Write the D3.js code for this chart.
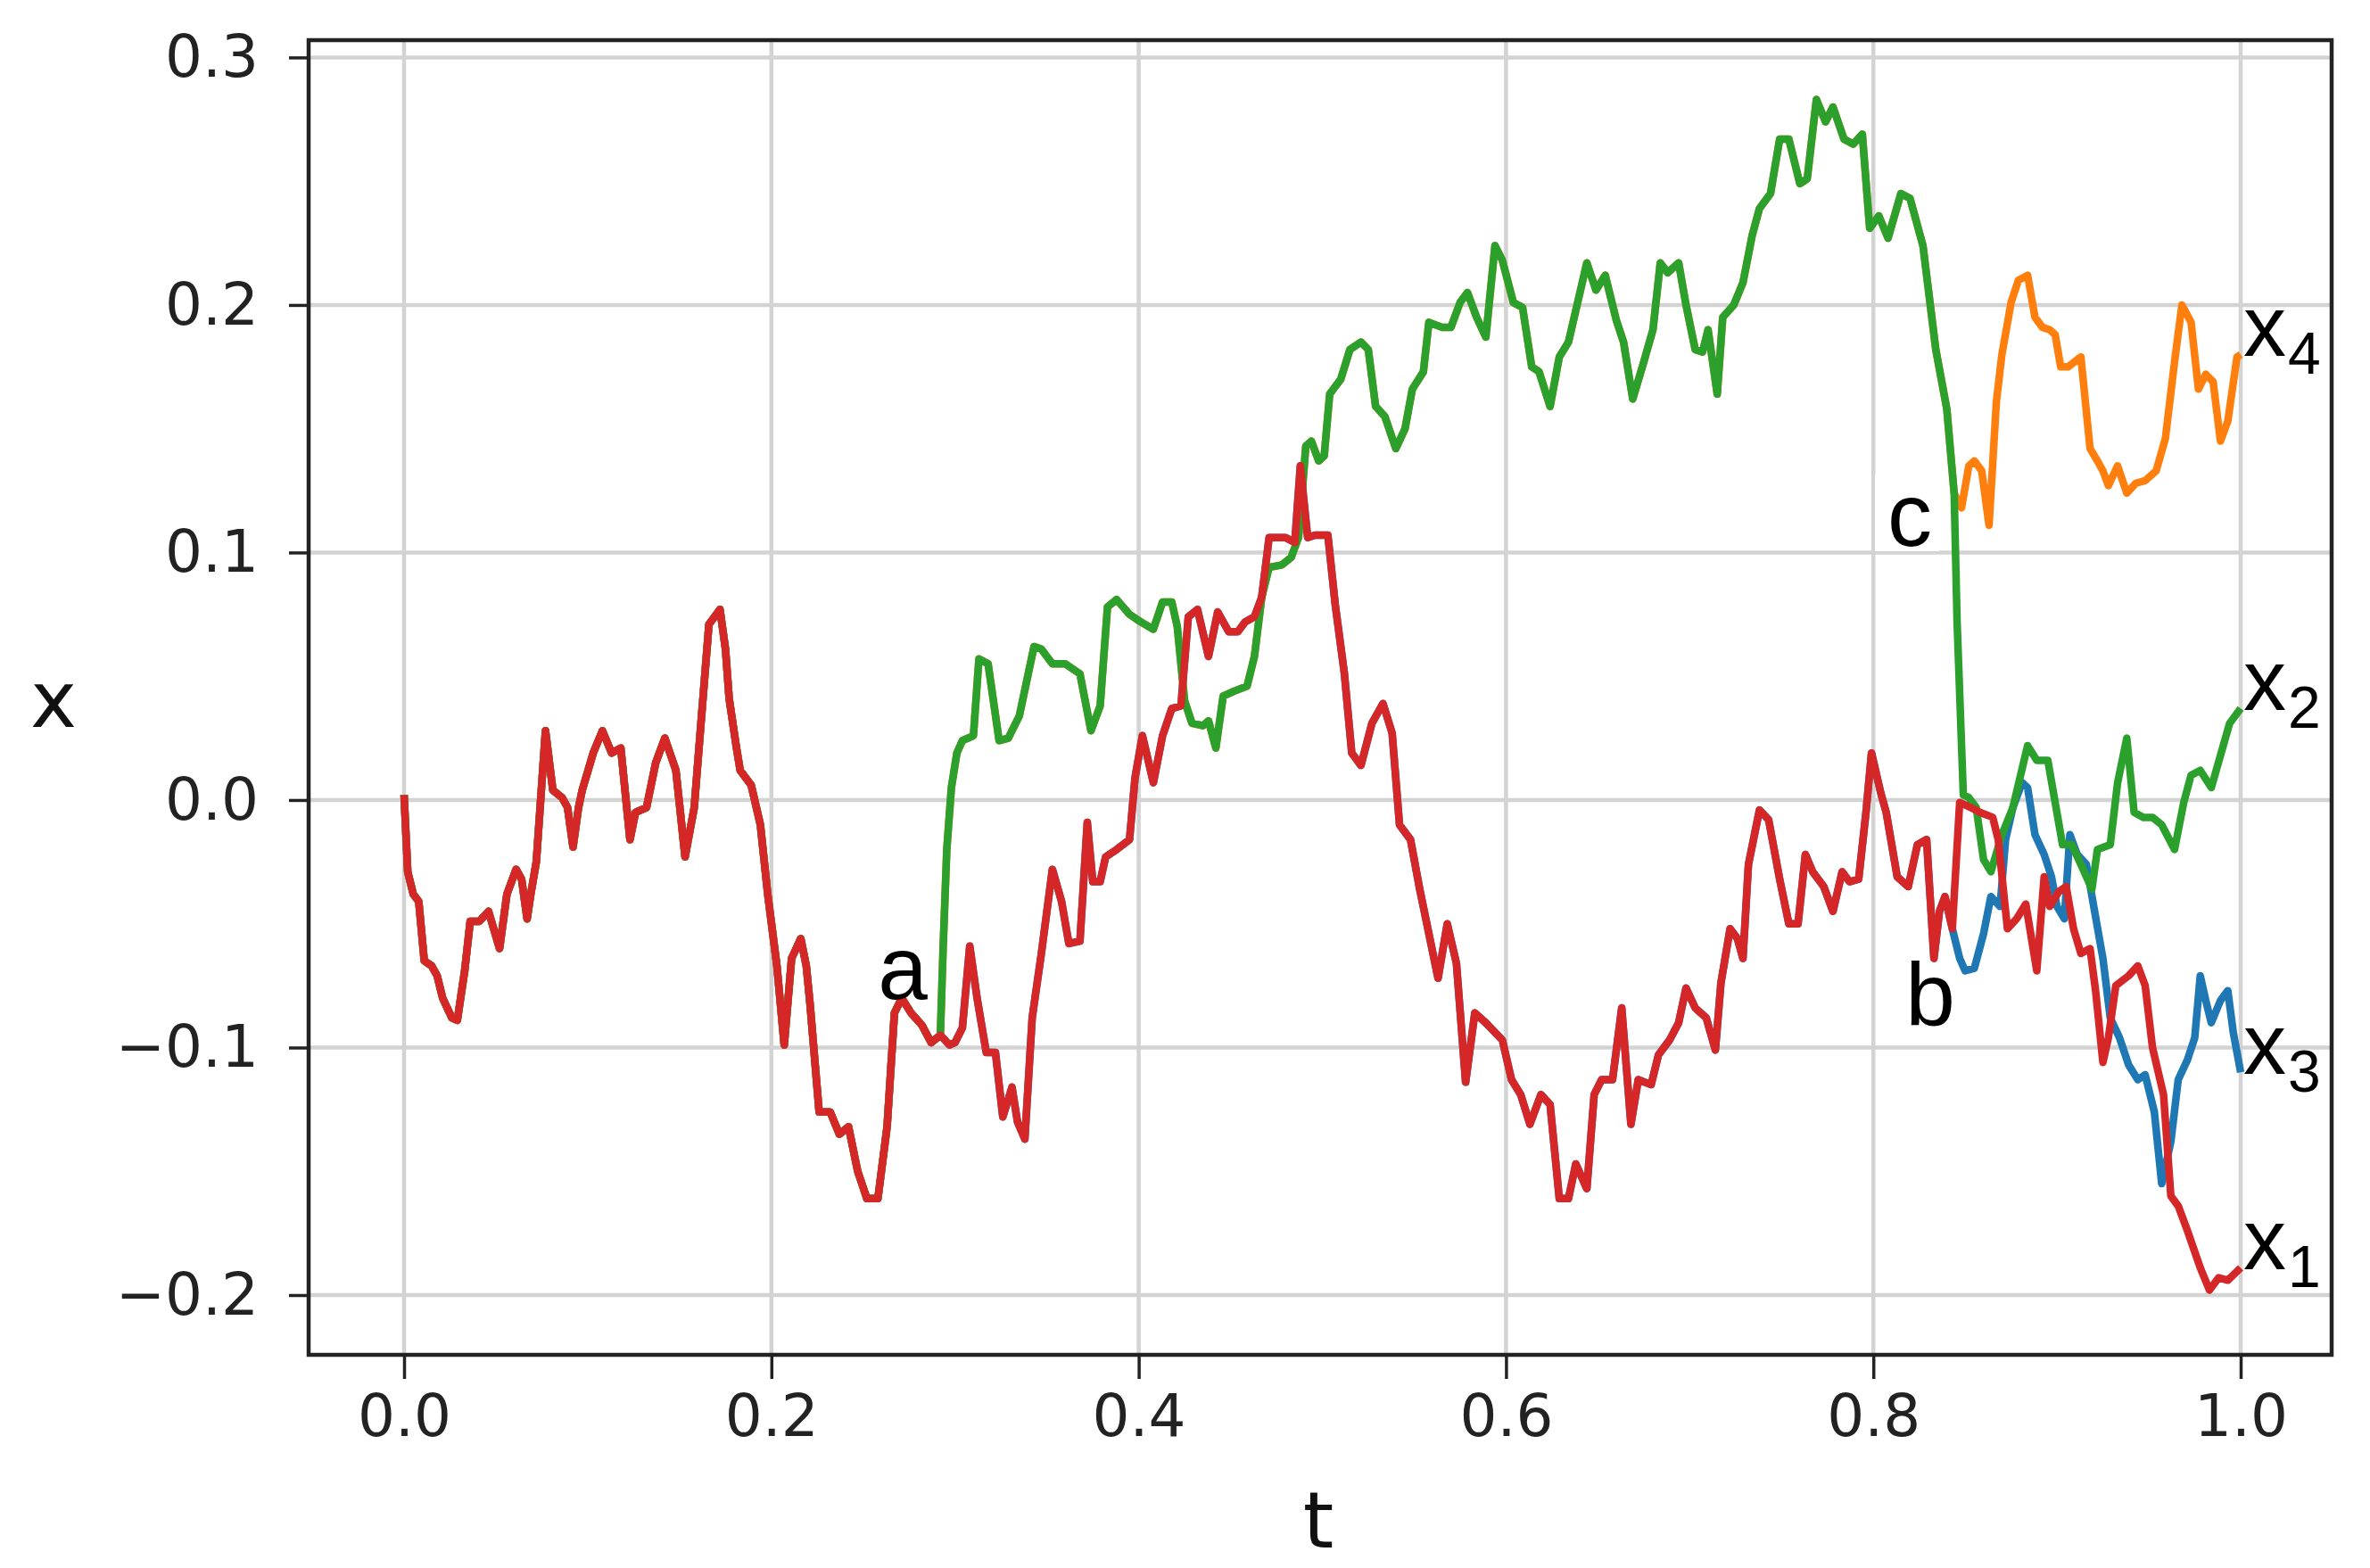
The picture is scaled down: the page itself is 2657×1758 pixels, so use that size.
<!DOCTYPE html>
<html><head><meta charset="utf-8">
<script src="https://cdn.jsdelivr.net/npm/d3@7"></script>
<style>html,body{margin:0;padding:0;background:#fff;} svg{display:block;}</style>
</head><body>
<svg id="chart" width="2657" height="1758"></svg>
<script>
// ---------------- data ----------------
const xTicks = [0.0, 0.2, 0.4, 0.6, 0.8, 1.0];
const yTicks = [-0.2, -0.1, 0.0, 0.1, 0.2, 0.3];

// x1 (red): whole trajectory, [t, x]
const x1Path = [
[0.000,0.002],[0.002,-0.029],[0.005,-0.038],[0.008,-0.041],[0.011,-0.065],[0.015,-0.067],[0.018,-0.071],
[0.021,-0.080],[0.026,-0.088],[0.029,-0.089],[0.033,-0.069],[0.036,-0.049],[0.041,-0.049],[0.046,-0.045],
[0.052,-0.060],[0.056,-0.038],[0.061,-0.028],[0.064,-0.032],[0.067,-0.048],[0.069,-0.038],[0.072,-0.025],
[0.077,0.028],[0.081,0.004],[0.086,0.001],[0.089,-0.003],[0.092,-0.019],[0.095,-0.003],[0.097,0.004],
[0.103,0.019],[0.108,0.028],[0.113,0.019],[0.118,0.021],[0.123,-0.016],[0.126,-0.005],[0.132,-0.003],
[0.137,0.015],[0.142,0.025],[0.148,0.012],[0.153,-0.023],[0.158,-0.003],[0.161,0.025],[0.166,0.071],
[0.172,0.077],[0.175,0.061],[0.177,0.041],[0.181,0.021],[0.183,0.012],[0.189,0.006],[0.194,-0.010],
[0.198,-0.038],[0.203,-0.067],[0.207,-0.099],[0.211,-0.064],[0.216,-0.056],[0.219,-0.067],[0.221,-0.082],
[0.226,-0.126],[0.232,-0.126],[0.237,-0.135],[0.242,-0.132],[0.247,-0.150],[0.252,-0.161],[0.258,-0.161],
[0.263,-0.132],[0.267,-0.086],[0.271,-0.080],[0.276,-0.086],[0.282,-0.091],[0.287,-0.098],[0.292,-0.095],
[0.297,-0.099],[0.300,-0.098],[0.304,-0.092],[0.308,-0.059],[0.312,-0.080],[0.317,-0.102],[0.322,-0.102],
[0.326,-0.128],[0.331,-0.116],[0.334,-0.130],[0.338,-0.137],[0.342,-0.088],[0.347,-0.062],[0.353,-0.028],
[0.358,-0.041],[0.362,-0.058],[0.368,-0.057],[0.372,-0.009],[0.375,-0.033],[0.379,-0.033],[0.382,-0.023],
[0.388,-0.020],[0.395,-0.016],[0.398,0.009],[0.402,0.026],[0.408,0.007],[0.413,0.026],[0.418,0.037],
[0.423,0.038],[0.427,0.074],[0.432,0.077],[0.438,0.058],[0.443,0.076],[0.449,0.068],[0.454,0.068],
[0.458,0.072],[0.463,0.074],[0.467,0.082],[0.471,0.106],[0.475,0.106],[0.480,0.106],[0.485,0.104],
[0.488,0.135],[0.492,0.106],[0.496,0.107],[0.503,0.107],[0.507,0.079],[0.512,0.051],[0.516,0.019],
[0.521,0.014],[0.527,0.031],[0.533,0.039],[0.538,0.027],[0.542,-0.010],[0.548,-0.016],[0.553,-0.036],
[0.558,-0.054],[0.563,-0.072],[0.568,-0.050],[0.573,-0.066],[0.578,-0.114],[0.583,-0.086],[0.589,-0.090],
[0.598,-0.097],[0.603,-0.113],[0.608,-0.119],[0.613,-0.131],[0.619,-0.119],[0.624,-0.123],[0.629,-0.161],
[0.634,-0.161],[0.638,-0.147],[0.644,-0.157],[0.648,-0.119],[0.652,-0.113],[0.658,-0.113],[0.663,-0.084],
[0.668,-0.131],[0.672,-0.113],[0.679,-0.115],[0.683,-0.103],[0.689,-0.097],[0.694,-0.090],[0.698,-0.076],
[0.703,-0.084],[0.709,-0.088],[0.714,-0.101],[0.717,-0.074],[0.722,-0.052],[0.726,-0.056],[0.729,-0.064],
[0.732,-0.026],[0.738,-0.004],[0.743,-0.008],[0.749,-0.032],[0.754,-0.050],[0.759,-0.050],[0.763,-0.022],
[0.767,-0.029],[0.773,-0.035],[0.778,-0.045],[0.783,-0.029],[0.787,-0.033],[0.792,-0.032],[0.796,-0.005],
[0.799,0.019],[0.804,0.003],[0.807,-0.005],[0.813,-0.031],[0.819,-0.035],[0.824,-0.018],[0.829,-0.016],
[0.833,-0.064],[0.836,-0.045],[0.839,-0.039],[0.843,-0.052],[0.847,-0.001],[0.853,-0.003],[0.858,-0.005],
[0.865,-0.007],[0.868,-0.016],[0.873,-0.052],[0.878,-0.048],[0.883,-0.042],[0.889,-0.069],[0.893,-0.031],
[0.896,-0.043],[0.901,-0.037],[0.905,-0.035],[0.909,-0.052],[0.913,-0.062],[0.918,-0.060],[0.921,-0.077],
[0.925,-0.106],[0.928,-0.096],[0.932,-0.075],[0.939,-0.071],[0.944,-0.067],[0.948,-0.075],[0.952,-0.100],
[0.958,-0.119],[0.962,-0.160],[0.966,-0.164],[0.971,-0.174],[0.978,-0.189],[0.983,-0.198],[0.988,-0.193],
[0.993,-0.194],[1.000,-0.189]
];

// x2 (green): branches off x1 at "a"
const x2Branch = [
[0.292,-0.095],[0.2935,-0.060],[0.2955,-0.020],[0.298,0.005],[0.301,0.019],[0.304,0.024],[0.310,0.026],
[0.313,0.057],[0.318,0.055],[0.324,0.024],[0.329,0.025],[0.335,0.034],[0.343,0.062],[0.347,0.061],
[0.353,0.055],[0.360,0.055],[0.368,0.051],[0.374,0.028],[0.379,0.038],[0.383,0.078],[0.388,0.081],
[0.395,0.075],[0.401,0.072],[0.408,0.069],[0.413,0.080],[0.418,0.080],[0.421,0.070],[0.425,0.040],
[0.429,0.031],[0.435,0.030],[0.438,0.032],[0.442,0.021],[0.446,0.042],[0.452,0.044],[0.459,0.046],
[0.463,0.058],[0.467,0.082],[0.471,0.094],[0.478,0.095],[0.483,0.098],[0.487,0.106],[0.491,0.143],
[0.494,0.145],[0.498,0.137],[0.501,0.139],[0.504,0.164],[0.510,0.170],[0.515,0.182],[0.521,0.185],
[0.525,0.182],[0.529,0.159],[0.534,0.155],[0.540,0.142],[0.545,0.150],[0.549,0.166],[0.555,0.173],
[0.558,0.193],[0.565,0.191],[0.570,0.191],[0.575,0.201],[0.579,0.205],[0.584,0.195],[0.589,0.187],
[0.594,0.224],[0.598,0.218],[0.604,0.201],[0.609,0.199],[0.614,0.175],[0.618,0.173],[0.624,0.159],
[0.629,0.179],[0.634,0.185],[0.639,0.201],[0.644,0.217],[0.649,0.206],[0.654,0.212],[0.660,0.194],
[0.664,0.185],[0.669,0.162],[0.675,0.177],[0.680,0.190],[0.684,0.217],[0.688,0.213],[0.694,0.217],
[0.698,0.200],[0.703,0.182],[0.707,0.181],[0.710,0.190],[0.715,0.164],[0.718,0.195],[0.724,0.200],
[0.729,0.209],[0.734,0.228],[0.738,0.239],[0.744,0.245],[0.749,0.267],[0.754,0.267],[0.760,0.249],
[0.764,0.251],[0.769,0.283],[0.774,0.274],[0.778,0.280],[0.784,0.267],[0.789,0.265],[0.794,0.269],
[0.798,0.231],[0.803,0.236],[0.808,0.227],[0.815,0.245],[0.820,0.243],[0.827,0.224],[0.834,0.182],
[0.840,0.158],[0.844,0.124],[0.8456,0.072],[0.849,0.002],[0.852,0.001],[0.856,-0.003],[0.860,-0.024],
[0.864,-0.029],[0.870,-0.014],[0.876,-0.003],[0.884,0.022],[0.889,0.016],[0.895,0.016],[0.899,-0.001],
[0.903,-0.018],[0.908,-0.018],[0.913,-0.026],[0.919,-0.036],[0.922,-0.020],[0.929,-0.018],[0.933,0.007],
[0.938,0.025],[0.942,-0.005],[0.947,-0.007],[0.952,-0.007],[0.957,-0.010],[0.964,-0.020],[0.969,-0.001],
[0.973,0.010],[0.978,0.012],[0.984,0.005],[0.989,0.018],[0.994,0.031],[1.000,0.037]
];

// x3 (blue): branches off x1 at "b"
const x3Branch = [
[0.843,-0.052],[0.847,-0.064],[0.850,-0.069],[0.855,-0.068],[0.860,-0.054],[0.864,-0.039],[0.869,-0.043],
[0.872,-0.016],[0.876,-0.003],[0.881,0.007],[0.884,0.005],[0.888,-0.014],[0.893,-0.022],[0.897,-0.031],
[0.900,-0.043],[0.904,-0.048],[0.907,-0.014],[0.911,-0.022],[0.916,-0.026],[0.920,-0.043],[0.925,-0.064],
[0.929,-0.088],[0.934,-0.096],[0.939,-0.107],[0.944,-0.113],[0.948,-0.111],[0.953,-0.126],[0.957,-0.155],
[0.962,-0.138],[0.966,-0.113],[0.971,-0.105],[0.975,-0.096],[0.978,-0.071],[0.981,-0.081],[0.984,-0.090],
[0.989,-0.081],[0.993,-0.077],[0.996,-0.094],[1.000,-0.110]
];

// x4 (orange): branches off x2 at "c"
const x4Branch = [
[0.844,0.124],[0.848,0.118],[0.852,0.135],[0.855,0.137],[0.859,0.133],[0.863,0.111],[0.867,0.161],
[0.870,0.180],[0.875,0.201],[0.879,0.210],[0.884,0.212],[0.888,0.195],[0.892,0.191],[0.896,0.190],
[0.899,0.188],[0.902,0.175],[0.906,0.175],[0.913,0.179],[0.918,0.142],[0.922,0.137],[0.925,0.133],
[0.928,0.127],[0.933,0.135],[0.938,0.124],[0.943,0.128],[0.948,0.129],[0.954,0.133],[0.959,0.146],
[0.964,0.177],[0.968,0.200],[0.973,0.193],[0.977,0.166],[0.981,0.172],[0.985,0.169],[0.989,0.145],
[0.993,0.153],[0.998,0.179],[1.000,0.180]
];

const seriesNames = ["1", "2", "3", "4"];
const seriesColors = ["#d62728", "#2ca02c", "#1f77b4", "#ff7f0e"];

// point annotations: letter, t, x (baseline)
const markLetters = ["a", "b", "c"];
const markT = [0.2715, 0.831, 0.8198];
const markX = [-0.0804, -0.0912, 0.1027];

// ---------------- build series ----------------
function branch(parent, br) {
  const t0 = br[0][0];
  return parent.filter(d => d[0] < t0).concat(br);
}
const x1 = x1Path;
const x2 = branch(x1, x2Branch);
const x3 = branch(x1, x3Branch);
const x4 = branch(x2, x4Branch);
const allSeries = [x1, x2, x3, x4];

// ---------------- layout ----------------
const svg = d3.select("#chart");
const frame = {left: 346, right: 2614, top: 45, bottom: 1519};
const xS = d3.scaleLinear().domain([0, 1]).range([453, 2512]);
const yS = d3.scaleLinear().domain([-0.2, 0.3]).range([1452, 64.4]);

svg.append("rect").attr("width", 2657).attr("height", 1758).attr("fill", "#fff");

// grid
const grid = svg.append("g").attr("stroke", "#d3d3d3").attr("stroke-width", 4.5);
grid.selectAll("line.v").data(xTicks).join("line")
  .attr("x1", d => xS(d)).attr("x2", d => xS(d))
  .attr("y1", frame.top).attr("y2", frame.bottom);
grid.selectAll("line.h").data(yTicks).join("line")
  .attr("class", "h")
  .attr("x1", frame.left).attr("x2", frame.right)
  .attr("y1", d => yS(d)).attr("y2", d => yS(d));

// annotation white boxes (under the lines)
const boxG = svg.append("g");
const linesG = svg.append("g");
const textG = svg.append("g");

// lines: draw order blue, orange, green, red
const line = d3.line().x(d => xS(d[0])).y(d => yS(d[1]));
[2, 3, 1, 0].forEach(i => {
  linesG.append("path").datum(allSeries[i])
    .attr("d", line)
    .attr("fill", "none")
    .attr("stroke", seriesColors[i])
    .attr("stroke-width", 8.5)
    .attr("stroke-linejoin", "round")
    .attr("stroke-linecap", "butt");
});

// frame
svg.append("rect")
  .attr("x", frame.left).attr("y", frame.top)
  .attr("width", frame.right - frame.left).attr("height", frame.bottom - frame.top)
  .attr("fill", "none").attr("stroke", "#222").attr("stroke-width", 4.5);

// axes
const fmt = d3.format(".1f");
const yAxis = svg.append("g").attr("transform", `translate(${frame.left},0)`)
  .call(d3.axisLeft(yS).tickValues(yTicks).tickFormat(fmt).tickSize(22).tickPadding(34));
const xAxis = svg.append("g").attr("transform", `translate(0,${frame.bottom})`)
  .call(d3.axisBottom(xS).tickValues(xTicks).tickFormat(fmt).tickSize(27).tickPadding(17));
[yAxis, xAxis].forEach(ax => {
  ax.select(".domain").remove();
  ax.selectAll(".tick line").attr("stroke", "#222").attr("stroke-width", 3.5);
  ax.selectAll(".tick text").attr("fill", "#222")
    .style("font-family", "'DejaVu Sans', sans-serif").style("font-size", "66px");
});

// axis titles
svg.append("text").attr("x", 60).attr("y", 815).attr("text-anchor", "middle")
  .style("font-family", "'DejaVu Sans', sans-serif").style("font-size", "88px").attr("fill", "#111").text("x");
svg.append("text").attr("x", 1478).attr("y", 1735).attr("text-anchor", "middle")
  .style("font-family", "'DejaVu Sans', sans-serif").style("font-size", "88px").attr("fill", "#111").text("t");

// end labels x_i
allSeries.forEach((s, i) => {
  const last = s[s.length - 1];
  const t = textG.append("text")
    .attr("x", xS(last[0]) + 3).attr("y", yS(last[1]) + 2)
    .style("font-family", "'Liberation Sans', Arial, sans-serif").attr("fill", "#000");
  t.append("tspan").style("font-size", "96px").text("x");
  t.append("tspan").style("font-size", "66px").attr("dy", 20).attr("dx", 2).text(seriesNames[i]);
});

// letters a, b, c with white boxes
markLetters.forEach((L, i) => {
  const tx = textG.append("text")
    .attr("x", xS(markT[i])).attr("y", yS(markX[i]))
    .attr("text-anchor", "middle")
    .style("font-family", "'Liberation Sans', Arial, sans-serif").style("font-size", "100px")
    .attr("fill", "#000").text(L);
  const bb = tx.node().getBBox();
  boxG.append("rect")
    .attr("x", bb.x - 14).attr("y", bb.y + 12)
    .attr("width", bb.width + 22).attr("height", bb.height - 27)
    .attr("fill", "#fff");
});
</script>
</body></html>
